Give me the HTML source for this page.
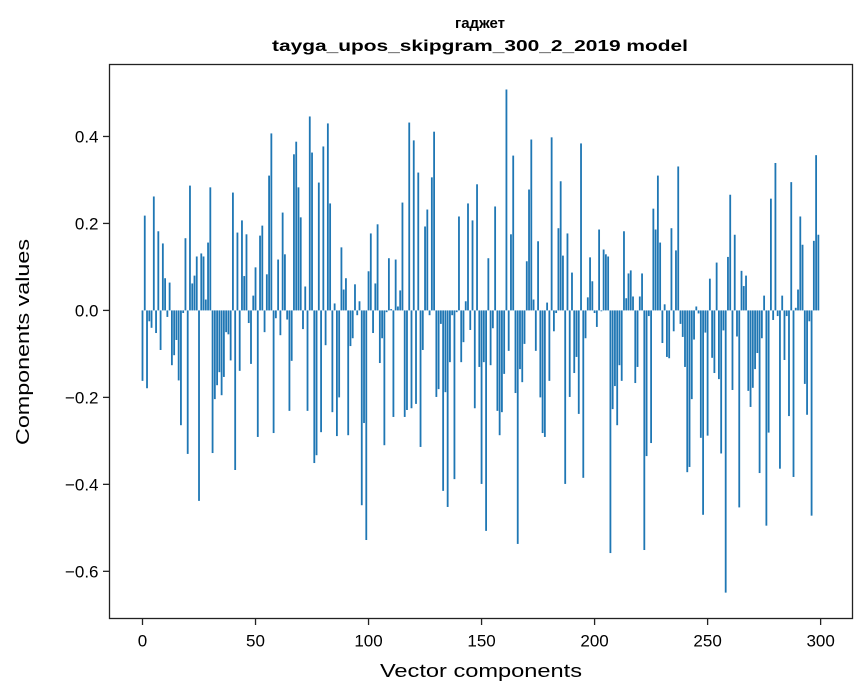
<!DOCTYPE html>
<html><head><meta charset="utf-8"><style>
body{margin:0;background:#fff;}
svg{display:block;font-family:"Liberation Sans","DejaVu Sans",sans-serif;}
</style></head><body>
<svg id="chart" width="867" height="696" viewBox="0 0 867 696" xmlns="http://www.w3.org/2000/svg">
<rect x="0" y="0" width="867" height="696" fill="#fff"/>
<text x="480" y="28" text-anchor="middle" font-size="15" font-weight="bold">гаджет</text>
<text x="480" y="51" text-anchor="middle" font-size="16" font-weight="bold" textLength="416" lengthAdjust="spacingAndGlyphs">tayga_upos_skipgram_300_2_2019 model</text>
<g id="bars"></g>
<g id="axes"></g>
<text x="481" y="677" text-anchor="middle" font-size="18" textLength="202" lengthAdjust="spacingAndGlyphs">Vector components</text>
<text transform="translate(29,342) rotate(-90)" text-anchor="middle" font-size="18" textLength="206" lengthAdjust="spacingAndGlyphs">Components values</text>
</svg>
<script>
const values = [
-0.162,0.218,-0.179,-0.025,-0.04,0.262,-0.052,0.182,-0.091,0.154,
0.074,-0.015,0.064,-0.126,-0.103,-0.068,-0.161,-0.264,-0.006,0.166,
-0.33,0.287,0.062,0.080,0.124,-0.438,0.131,0.124,0.025,0.156,
0.283,-0.328,-0.204,-0.172,-0.142,-0.195,-0.153,-0.05,-0.055,-0.115,
0.271,-0.367,0.179,-0.139,0.207,0.079,0.175,-0.029,-0.123,0.034,
0.099,-0.291,0.172,0.195,-0.05,0.083,0.31,0.407,-0.282,-0.018,
0.117,-0.057,0.225,0.129,-0.021,-0.231,-0.116,0.359,0.388,0.283,
0.214,-0.043,0.055,-0.231,0.446,0.363,-0.351,-0.333,0.294,-0.28,
0.377,-0.08,0.43,0.246,-0.234,0.016,-0.289,-0.2,0.145,0.048,
0.074,-0.287,-0.082,-0.064,0.06,-0.011,0.021,-0.448,-0.259,-0.528,
0.09,0.177,-0.052,0.062,0.198,-0.121,-0.064,-0.31,-0.004,0.12,
0.003,-0.245,0.117,0.009,0.046,0.248,-0.245,-0.229,0.432,-0.225,
0.391,-0.215,0.317,-0.314,-0.091,0.193,0.232,-0.011,0.306,0.411,
-0.199,-0.181,-0.031,-0.415,-0.188,-0.452,-0.119,-0.011,-0.388,-0.004,
0.216,-0.119,-0.073,0.021,0.246,-0.045,0.207,-0.225,0.29,-0.13,
-0.399,-0.119,-0.507,0.12,-0.126,-0.041,0.239,-0.231,-0.287,-0.234,
-0.146,0.508,-0.093,0.175,0.356,-0.19,-0.537,-0.135,-0.165,-0.077,
0.113,0.278,0.393,0.025,-0.093,0.159,-0.2,-0.282,-0.291,0.018,
-0.162,0.398,-0.048,-0.006,0.189,0.297,0.126,-0.399,0.177,-0.199,
0.087,-0.144,-0.107,-0.238,0.384,-0.385,-0.064,0.03,0.122,0.067,
-0.006,-0.038,0.186,-0.002,0.14,0.129,0.124,-0.558,-0.227,-0.174,
-0.264,-0.126,-0.162,0.182,0.028,0.085,0.092,0.032,-0.167,-0.13,
0.032,0.085,-0.551,-0.335,-0.013,-0.305,0.234,0.186,0.31,0.156,
-0.075,0.014,-0.107,-0.11,0.189,-0.048,0.138,0.331,-0.031,-0.061,
-0.13,-0.372,-0.36,-0.204,-0.067,0.009,-0.007,-0.293,-0.47,-0.051,
-0.288,0.073,-0.109,-0.144,0.11,-0.158,-0.329,-0.046,-0.649,0.123,
0.266,-0.183,0.174,-0.06,-0.453,0.091,0.056,0.08,-0.185,-0.222,
-0.178,-0.135,-0.098,-0.374,-0.064,0.034,-0.495,-0.281,0.257,-0.022,
0.339,-0.013,-0.364,0.034,-0.114,-0.013,-0.243,0.295,-0.383,0.006,
0.048,0.216,0.151,-0.169,-0.24,-0.025,-0.472,0.16,0.357,0.174
];
const xTicks = [0,50,100,150,200,250,300];
const yTicks = [-0.6,-0.4,-0.2,0.0,0.2,0.4];
const yTickLabels = ["\u22120.6","\u22120.4","\u22120.2","0.0","0.2","0.4"];

const L=109.5,R=852.5,T=64.5,B=618.5;
const xMin=-14.6,xMax=314.1,yMin=-0.7085,yMax=0.5655;
function xs(v){return L+(v-xMin)/(xMax-xMin)*(R-L);}
function ys(v){return B-(v-yMin)/(yMax-yMin)*(B-T);}
const NS="http://www.w3.org/2000/svg";
const bars=document.getElementById('bars');
values.forEach((v,i)=>{
  const r=document.createElementNS(NS,'rect');
  const x0=xs(i-0.4),x1=xs(i+0.4);
  const y0=ys(Math.max(v,0)),y1=ys(Math.min(v,0));
  r.setAttribute('x',x0);r.setAttribute('width',x1-x0);
  r.setAttribute('y',y0);r.setAttribute('height',Math.max(y1-y0,0.3));
  r.setAttribute('fill','#1f77b4');
  
  
  bars.appendChild(r);
});
const axes=document.getElementById('axes');
const frame=document.createElementNS(NS,'rect');
frame.setAttribute('x',L);frame.setAttribute('y',T);frame.setAttribute('width',R-L);frame.setAttribute('height',B-T);
frame.setAttribute('fill','none');frame.setAttribute('stroke','#222');frame.setAttribute('stroke-width','1.3');


axes.appendChild(frame);
xTicks.forEach(t=>{
  const x=xs(t);
  const l=document.createElementNS(NS,'line');
  l.setAttribute('x1',x);l.setAttribute('x2',x);l.setAttribute('y1',B);l.setAttribute('y2',B+6.5);
  l.setAttribute('stroke','#222');l.setAttribute('stroke-width','1.3');
  
  
  axes.appendChild(l);
  const tx=document.createElementNS(NS,'text');
  tx.setAttribute('x',x);tx.setAttribute('y',B+28);tx.setAttribute('text-anchor','middle');tx.setAttribute('font-size','17');
  tx.textContent=String(t);
  
  
  axes.appendChild(tx);
});
yTicks.forEach((t,i)=>{
  const y=ys(t);
  const l=document.createElementNS(NS,'line');
  l.setAttribute('x1',L-6.5);l.setAttribute('x2',L);l.setAttribute('y1',y);l.setAttribute('y2',y);
  l.setAttribute('stroke','#222');l.setAttribute('stroke-width','1.3');
  
  
  axes.appendChild(l);
  const tx=document.createElementNS(NS,'text');
  tx.setAttribute('x',L-11);tx.setAttribute('y',y+6);tx.setAttribute('text-anchor','end');tx.setAttribute('font-size','17');
  tx.textContent=yTickLabels[i];
  
  
  axes.appendChild(tx);
});
</script>
</body></html>
